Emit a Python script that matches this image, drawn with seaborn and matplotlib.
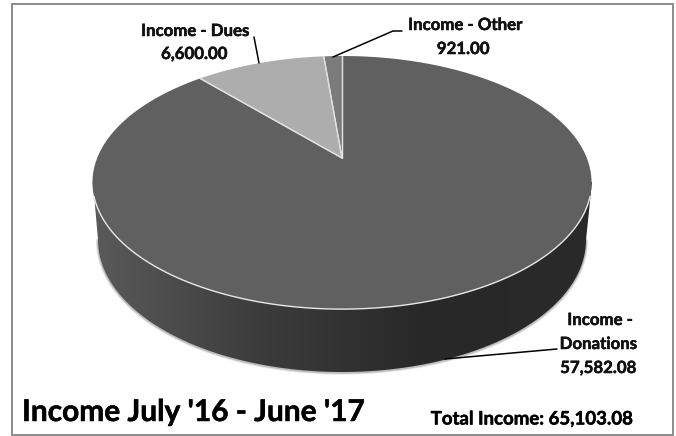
import numpy as np
import matplotlib
matplotlib.use("Agg")
import matplotlib.pyplot as plt
import matplotlib.patheffects as pe
from matplotlib.colors import LinearSegmentedColormap
from matplotlib.patches import Polygon, Rectangle
import seaborn as sns

categories = ["Income - Donations", "Income - Dues", "Income - Other"]
amounts = [57582.08, 6600.00, 921.00]
total_label = "Total Income: 65,103.08"
chart_title = "Income July '16 - June '17"

sns.set_theme(style="white")
plt.rcParams["font.family"] = ["Lato", "DejaVu Sans"]
face_colors = sns.color_palette(["#606060", "#adadad", "#7b7b7b"])
side_cmap = LinearSegmentedColormap.from_list("side", ["#5a5a5a", "#3c3c3c", "#282828", "#2a2a2a"])

fig = plt.figure(figsize=(6.76, 4.36), dpi=100)
ax = fig.add_axes([0, 0, 1, 1])
ax.set_xlim(0, 676)
ax.set_ylim(436, 0)
ax.axis("off")

# Tilted disc: a perspective view of the unit circle
CX, CY, RX, RY, TILT = 342.0, 158.0, 244.8, 121.8, 0.194


def project(angle):
    """Map clockwise-from-top angles (radians) onto the disc's top face."""
    px, py = np.sin(angle), np.cos(angle)
    w = 1 + TILT * py
    return CX + RX * px / w, CY - RY * py / w


# Cylinder wall down to the lower rim, with a soft rim shadow
t = np.linspace(0, np.pi, 300)
low_x = 342 - 244 * np.cos(t)
low_y = 240 + 132 * np.sin(t)
for width, shade in [(3.0, "#e4e4e4"), (1.6, "#bdbdbd")]:
    ax.plot(low_x, low_y + 0.6, color=shade, lw=width, zorder=0.8)
wall = Polygon(np.c_[np.r_[93, low_x, 592], np.r_[182, low_y, 182]], closed=True, fc="none", ec="none")
ax.add_patch(wall)
grad = ax.imshow(np.linspace(0, 1, 256)[None, :], extent=(93, 592, 400, 150),
                 cmap=side_cmap, aspect="auto", zorder=1)
grad.set_clip_path(wall)
ax.set_xlim(0, 676)
ax.set_ylim(436, 0)

# Top face: slices run counter-clockwise from twelve o'clock, smallest first
start = 0.0
for idx in [2, 1, 0]:
    sweep = 2 * np.pi * amounts[idx] / sum(amounts)
    arc = -np.linspace(start, start + sweep, 600)
    x, y = project(arc)
    ax.fill(np.r_[CX, x], np.r_[CY, y], color=face_colors[idx], ec="none", lw=0, zorder=2)
    ax.plot([CX, x[0]], [CY, y[0]], color="#e2e2e2", lw=0.9, zorder=2.2)
    ax.plot([CX, x[-1]], [CY, y[-1]], color="#e2e2e2", lw=0.9, zorder=2.2)
    start += sweep

# Light edge along the near side of the top face
rim = np.linspace(0, 2 * np.pi, 800)
rim_x, rim_y = project(rim)
rim_y_near = np.where(rim_y > 196, rim_y, np.nan)
ax.plot(rim_x, rim_y_near, color="#e8e8e8", lw=1.0, zorder=2.4)

# Leader lines
ax.plot([333, 393, 402], [57, 31, 31], color="black", lw=1.1, zorder=3)
ax.plot([254, 259], [37, 63], color="black", lw=1.1, zorder=3)
ax.plot([445, 557], [359, 349], color="black", lw=1.1, zorder=3)

heavy = [pe.withStroke(linewidth=0.35, foreground="black")]
label_style = dict(fontsize=12.1, fontweight="bold", color="#111111", ha="center", va="center",
                   zorder=4, path_effects=heavy)
ax.text(195, 31, categories[1], **label_style)
ax.text(194, 54, f"{amounts[1]:,.2f}", **label_style)
ax.text(465, 25, categories[2], **label_style)
ax.text(463, 49, f"{amounts[2]:,.2f}", **label_style)
ax.text(600, 320, "Income -", **label_style)
ax.text(598, 344, "Donations", **label_style)
ax.text(598, 368, f"{amounts[0]:,.2f}", **label_style)
ax.text(532, 419, total_label, fontsize=13.4, fontweight="bold", color="black",
        ha="center", va="center", zorder=4, path_effects=heavy)
ax.text(22, 412, chart_title, fontsize=21.5, fontweight="bold", color="black",
        ha="left", va="center", zorder=4, path_effects=heavy)

# Chart frame
ax.add_patch(Rectangle((11.5, 4.5), 661.5, 430.5, fc="none", ec="#8c8c8c", lw=1.4, zorder=5))

fig.savefig("out.png", dpi=100)
